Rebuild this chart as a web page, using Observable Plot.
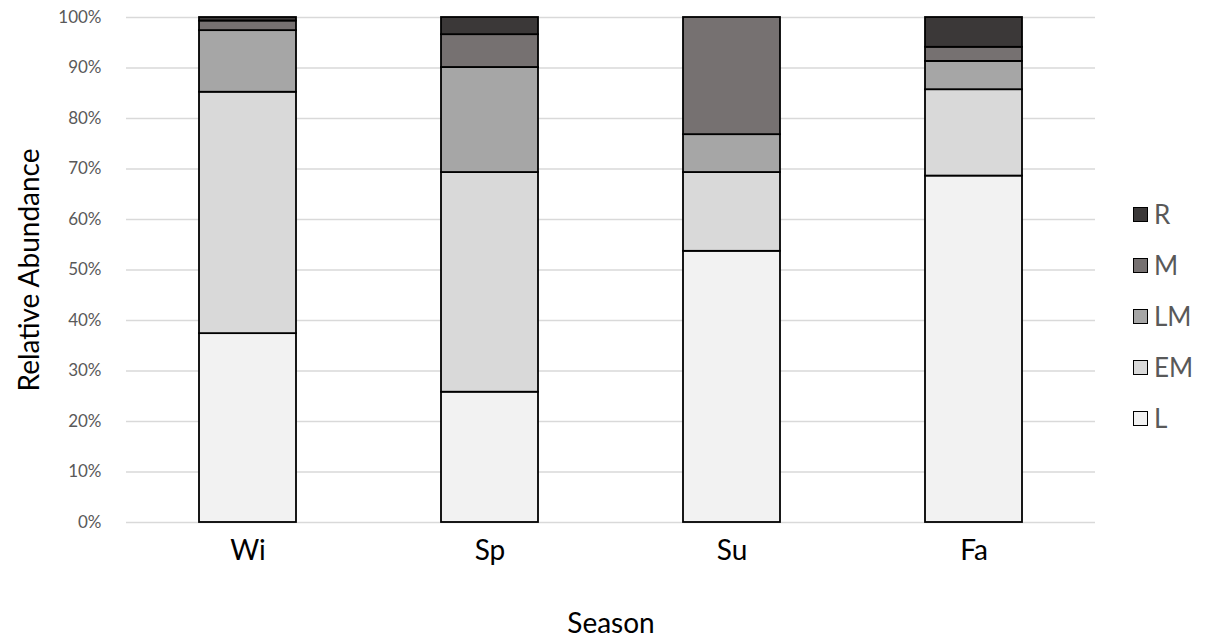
<!DOCTYPE html>
<html>
<head>
<meta charset="utf-8">
<script src="https://cdn.jsdelivr.net/npm/d3@7"></script>
<script src="https://cdn.jsdelivr.net/npm/@observablehq/plot@0.6"></script>
<style>
  html, body { margin: 0; padding: 0; background: #fff; }
  #wrap { position: relative; width: 1217px; height: 637px; font-family: Lato, "Open Sans", sans-serif; }
  #legend { position: absolute; left: 1133px; top: 202px; }
  .item { display: flex; align-items: center; height: 24px; margin-bottom: 27px; color: #595959; font-size: 26px; }
  .sw { width: 13px; height: 13px; border: 1.8px solid #000; margin-right: 6px; box-sizing: content-box; }
</style>
</head>
<body>
<div id="wrap"></div>
<script>
const seasons = ["Wi", "Sp", "Su", "Fa"];
const classes = ["L", "EM", "LM", "M", "R"];
const colors = ["#f2f2f2", "#d9d9d9", "#a6a6a6", "#767171", "#3b3838"];
const L  = [37.4, 25.8, 53.7, 68.6];
const EM = [47.8, 43.5, 15.6, 17.1];
const LM = [12.2, 20.8, 7.5, 5.6];
const M  = [1.9, 6.5, 23.2, 2.8];
const R  = [0.7, 3.4, 0.0, 5.9];
const yTicks = [0, 10, 20, 30, 40, 50, 60, 70, 80, 90, 100];

const series = {L, EM, LM, M, R};
const rows = [];
seasons.forEach((s, i) => classes.forEach(c => {
  if (series[c][i] > 0) rows.push({season: s, cls: c, value: series[c][i]});
}));

const chart = Plot.plot({
  width: 1217,
  height: 637,
  marginLeft: 126,
  marginRight: 122,
  marginTop: 17,
  marginBottom: 115,
  style: {fontFamily: "Lato, 'Open Sans', sans-serif", background: "#fff"},
  x: {domain: seasons, paddingInner: 0.6, paddingOuter: 0.3},
  y: {domain: [0, 100]},
  color: {domain: classes, range: colors},
  marks: [
    Plot.gridY(yTicks, {stroke: "#d9d9d9", strokeOpacity: 1, strokeWidth: 1.5}),
    Plot.barY(rows, Plot.stackY({x: "season", y: "value", fill: "cls", order: classes, stroke: "#000", strokeWidth: 1.8})),
    Plot.axisY({ticks: yTicks, tickSize: 0, tickPadding: 25, tickFormat: d => d + "%", fontSize: 17, color: "#595959",
      label: "Relative Abundance", labelAnchor: "center", labelArrow: "none", labelOffset: 107}),
    Plot.axisX({tickSize: 0, tickPadding: 18, fontSize: 28, color: "#000",
      label: "Season", labelAnchor: "center", labelArrow: "none", labelOffset: 110})
  ]
});
chart.querySelectorAll('[aria-label="y-axis label"], [aria-label="x-axis label"]').forEach(g => {
  g.setAttribute("font-size", 28); g.setAttribute("fill", "#000");
  g.querySelectorAll("text").forEach(t => { t.setAttribute("font-size", 28); t.setAttribute("fill", "#000"); });
});
document.getElementById("wrap").appendChild(chart);

const legend = document.createElement("div");
legend.id = "legend";
[...classes].reverse().forEach(c => {
  const item = document.createElement("div");
  item.className = "item";
  const sw = document.createElement("div");
  sw.className = "sw";
  sw.style.background = colors[classes.indexOf(c)];
  const tx = document.createElement("span");
  tx.textContent = c;
  item.appendChild(sw); item.appendChild(tx);
  legend.appendChild(item);
});
document.getElementById("wrap").appendChild(legend);
</script>
</body>
</html>
